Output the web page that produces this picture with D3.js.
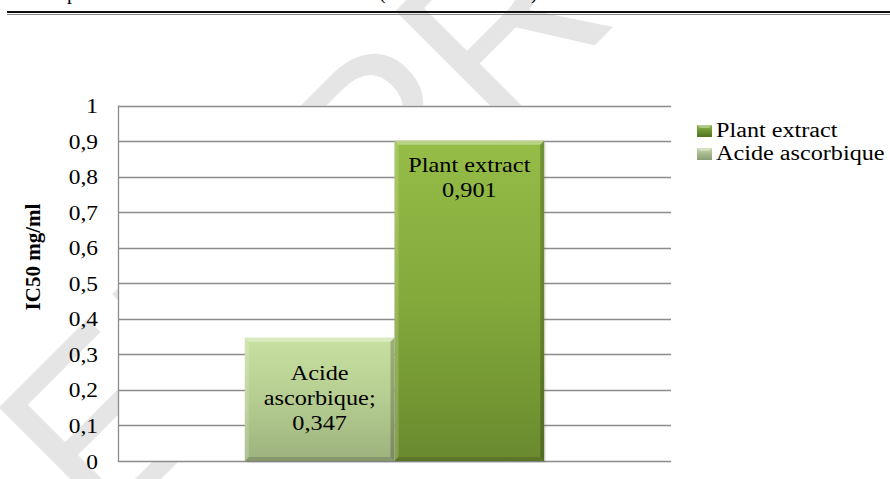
<!DOCTYPE html>
<html>
<head>
<meta charset="utf-8">
<script src="https://cdn.jsdelivr.net/npm/d3@7"></script>
<style>
  html, body { margin: 0; padding: 0; background: #ffffff; }
  svg { display: block; }
</style>
</head>
<body>
<svg id="chart" width="890" height="479"></svg>
<script>
// ---- data ----
const seriesNames = ["Acide ascorbique", "Plant extract"];
const seriesValues = [0.347, 0.901];
const barLabelLines = [["Acide", "ascorbique;", "0,347"], ["Plant extract", "0,901"]];
const legendNames = ["Plant extract", "Acide ascorbique"];
const yTickValues = [0, 0.1, 0.2, 0.3, 0.4, 0.5, 0.6, 0.7, 0.8, 0.9, 1];
const yTickLabels = ["0", "0,1", "0,2", "0,3", "0,4", "0,5", "0,6", "0,7", "0,8", "0,9", "1"];
const yAxisTitle = "IC50 mg/ml";
const watermarkWords = ["UNCORRECTED", "PROOF"];
const captionFragments = ["p", "(", ")"];

// ---- layout ----
const svg = d3.select("#chart");
const W = 890, H = 479;
const plot = { left: 118, right: 671, top: 105.5, bottom: 461 };
const serif = "'Liberation Serif', 'Times New Roman', serif";
const SX = 1.17; // horizontal stretch of text in the reference

const x = d3.scaleBand().domain(seriesNames).range([plot.left, plot.right])
  .paddingInner(0).paddingOuter(0.847);
const y = d3.scaleLinear().domain([0, 1]).range([plot.bottom, plot.top]);

const defs = svg.append("defs");
function vgrad(id, stops) {
  const g = defs.append("linearGradient").attr("id", id)
    .attr("x1", 0).attr("y1", 0).attr("x2", 0).attr("y2", 1);
  stops.forEach(s => g.append("stop").attr("offset", s[0]).attr("stop-color", s[1]));
}
vgrad("gAcid", [[0, "#c8e1a1"], [0.5, "#b5cd90"], [1, "#9db27e"]]);
vgrad("gPlant", [[0, "#95bd47"], [0.5, "#83a93b"], [1, "#6a8a2e"]]);
vgrad("gLegPlant", [[0, "#8db446"], [1, "#4d7420"]]);
vgrad("gLegAcid", [[0, "#c2d6a4"], [1, "#8a9c74"]]);
const fills = { "Acide ascorbique": "url(#gAcid)", "Plant extract": "url(#gPlant)" };
const legFills = { "Acide ascorbique": "url(#gLegAcid)", "Plant extract": "url(#gLegPlant)" };

// ---- watermark (behind the opaque plot area) ----
const wm = svg.append("g")
  .attr("transform", "translate(385,255) rotate(-45)")
  .attr("font-family", "'Liberation Sans', Arial, sans-serif")
  .attr("font-size", 240).attr("fill", "#e5e5e5");
wm.append("text").attr("x", -67).attr("y", 0).attr("text-anchor", "end").text(watermarkWords[0]);
wm.append("text").attr("x", 0).attr("y", 0).attr("text-anchor", "start").text(watermarkWords[1]);

// ---- caption fragment and header rule ----
const capX = [67, 379, 531];
svg.append("g").attr("font-family", serif).attr("font-size", 20).attr("fill", "#000")
  .selectAll("text").data(captionFragments).join("text")
  .attr("x", (d, i) => capX[i]).attr("y", -1).text(d => d);
svg.append("line").attr("x1", 7).attr("x2", W).attr("y1", 12).attr("y2", 12)
  .attr("stroke", "#111").attr("stroke-width", 2);
svg.append("line").attr("x1", 7).attr("x2", W).attr("y1", 14.5).attr("y2", 14.5)
  .attr("stroke", "#8a8a8a").attr("stroke-width", 1);

// ---- plot area ----
svg.append("rect").attr("x", plot.left).attr("y", plot.top)
  .attr("width", plot.right - plot.left).attr("height", plot.bottom - plot.top)
  .attr("fill", "#ffffff");

// gridlines
svg.append("g").selectAll("line").data(yTickValues).join("line")
  .attr("x1", plot.left).attr("x2", plot.right)
  .attr("y1", d => Math.round(y(d)) + 0.5).attr("y2", d => Math.round(y(d)) + 0.5)
  .attr("stroke", "#8c8c8c").attr("stroke-width", 1.3);

// y axis line
svg.append("line").attr("x1", plot.left + 0.5).attr("x2", plot.left + 0.5)
  .attr("y1", plot.top).attr("y2", plot.bottom + 1)
  .attr("stroke", "#8c8c8c").attr("stroke-width", 1.3);

// tick labels via d3 axis (domain/ticks hidden)
const yAxis = d3.axisLeft(y).tickValues(yTickValues)
  .tickFormat((d, i) => yTickLabels[i]).tickSize(0).tickPadding(0);
const ya = svg.append("g").attr("transform", `translate(${plot.left},0)`).call(yAxis);
ya.select(".domain").remove();
ya.selectAll(".tick text")
  .attr("font-family", serif).attr("font-size", 20).attr("fill", "#000")
  .attr("x", 0).attr("dy", null).attr("y", 0)
  .attr("transform", `translate(-20,7) scale(${SX},1)`)
  .attr("text-anchor", "end");

// axis title
svg.append("text")
  .attr("transform", "translate(40,257) rotate(-90)")
  .attr("text-anchor", "middle")
  .attr("font-family", serif).attr("font-size", 21).attr("font-weight", "bold")
  .attr("fill", "#000").text(yAxisTitle);

// ---- bars ----
const bars = svg.append("g").selectAll("g").data(seriesNames).join("g");
const bv = 4;
bars.each(function (name, i) {
  const g = d3.select(this);
  const x0 = x(name), x1 = x(name) + x.bandwidth();
  const y0 = y(seriesValues[i]), y1 = y(0);
  // soft shadow
  g.append("rect").attr("x", x0 + 2).attr("y", y0 + 2).attr("width", x1 - x0).attr("height", y1 - y0)
    .attr("fill", "#000").attr("opacity", 0.08);
  g.append("rect").attr("x", x0).attr("y", y0).attr("width", x1 - x0).attr("height", y1 - y0)
    .attr("fill", fills[name]);
  const poly = (pts, fill, op) => g.append("polygon")
    .attr("points", pts.map(p => p.join(",")).join(" ")).attr("fill", fill).attr("opacity", op);
  poly([[x0, y0], [x1, y0], [x1 - bv, y0 + bv], [x0 + bv, y0 + bv]], "#ffffff", 0.35);
  poly([[x0, y0], [x0 + bv, y0 + bv], [x0 + bv, y1 - bv], [x0, y1]], "#ffffff", 0.18);
  poly([[x1, y0], [x1, y1], [x1 - bv, y1 - bv], [x1 - bv, y0 + bv]], "#000000", 0.22);
  poly([[x0, y1], [x1, y1], [x1 - bv, y1 - bv], [x0 + bv, y1 - bv]], "#000000", 0.15);

  // data labels
  const lines = barLabelLines[i];
  const cx = (x0 + x1) / 2;
  const lh = 25;
  let firstBase;
  if (lines.length === 3) {
    const mid = (y0 + y1) / 2;
    firstBase = mid - lh + 6;
  } else {
    firstBase = y0 + 31;
  }
  lines.forEach((t, k) => {
    g.append("text")
      .attr("transform", `translate(${cx},${firstBase + k * lh}) scale(${SX - 0.04},1)`)
      .attr("text-anchor", "middle")
      .attr("font-family", serif).attr("font-size", 21.5).attr("fill", "#000")
      .text(t);
  });
});

// ---- legend ----
const leg = svg.append("g").selectAll("g").data(legendNames).join("g")
  .attr("transform", (d, i) => `translate(697,${125 + i * 23})`);
leg.append("rect").attr("x", 0).attr("y", 0).attr("width", 15).attr("height", 12)
  .attr("fill", d => legFills[d]);
leg.append("polygon").attr("points", "0,0 15,0 12,3 3,3").attr("fill", "#fff").attr("opacity", 0.35);
leg.append("text")
  .attr("transform", `translate(19,12) scale(${SX + 0.04},1)`)
  .attr("font-family", serif).attr("font-size", 20).attr("fill", "#000")
  .text(d => d);
</script>
</body>
</html>
